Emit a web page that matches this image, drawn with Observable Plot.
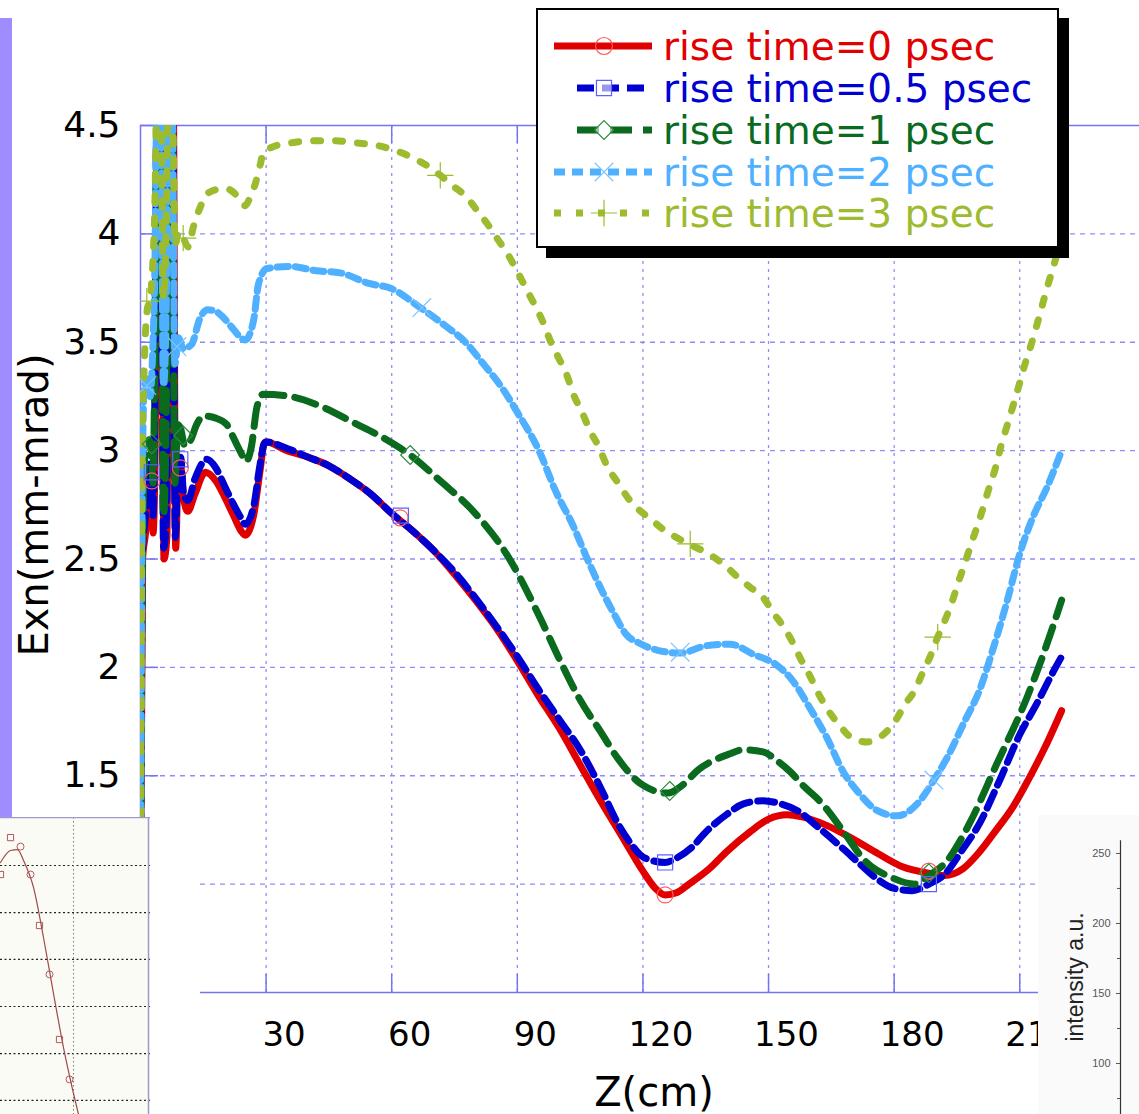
<!DOCTYPE html>
<html>
<head>
<meta charset="utf-8">
<script src="https://cdn.jsdelivr.net/npm/d3@7"></script>
<script src="https://cdn.jsdelivr.net/npm/@observablehq/plot@0.6"></script>
<style>
  body { margin: 0; background: #fff; }
  #wrap { position: relative; width: 1139px; height: 1114px; overflow: hidden; background: #fff; font-family: "DejaVu Sans", Verdana, sans-serif; }
  #wrap > * { position: absolute; }
  #bar { left: 0; top: 18px; width: 12px; height: 799px; background: #9f8cff; }
  #insetL { left: 0; top: 817px; width: 200px; height: 297px; background: #fff; }
  #insetR { left: 1038px; top: 815px; width: 101px; height: 299px; background: #fafafa; }
  #legendBox { left: 536px; top: 8px; width: 523px; height: 240px; box-sizing: border-box; border: 2px solid #000; background: #fff; box-shadow: 10px 10px 0 #000; }
</style>
</head>
<body>
<div id="wrap">
  <div id="bar"></div>
</div>
<script>
// ---------- axis ticks ----------
const zTicks = [30, 60, 90, 120, 150, 180, 210];
const yTicks = [0.5, 1, 1.5, 2, 2.5, 3, 3.5, 4, 4.5];
const yGrid = [1, 1.5, 2, 2.5, 3, 3.5, 4];

// ---------- series (Z in cm, Exn in mm-mrad) ----------
const seriesNames = ["rise time=0 psec", "rise time=0.5 psec", "rise time=1 psec", "rise time=2 psec", "rise time=3 psec"];

const z0 = [0, 0.5, 1.2, 2.0, 2.6, 3.0, 3.5, 4.2, 5.0, 5.6, 6.3, 7.0, 7.8, 8.4, 9.0, 9.6, 10.3, 11.3, 13, 15.5, 18, 20, 22, 24, 25, 27, 28.5, 29.5, 30, 35, 40, 45, 50, 55, 60, 65, 70, 75, 80, 85, 90, 95, 100, 105, 110, 115, 120, 123, 125.3, 128, 131, 135.8, 140, 145.5, 150, 154.4, 158, 164, 170, 176.2, 182, 188.3, 192, 196.4, 200, 204, 208.5, 212, 216, 220];
const e0 = [0.9, 2.5, 2.62, 2.86, 2.88, 2.62, 3.0, 4.7, 4.7, 2.5, 2.6, 4.7, 4.7, 2.55, 2.9, 2.93, 2.78, 2.72, 2.8, 2.9, 2.86, 2.79, 2.71, 2.63, 2.61, 2.7, 2.9, 3.03, 3.04, 3.00, 2.97, 2.93, 2.87, 2.80, 2.71, 2.63, 2.54, 2.43, 2.31, 2.18, 2.03, 1.87, 1.72, 1.55, 1.38, 1.22, 1.06, 0.98, 0.95, 0.96, 1.00, 1.07, 1.15, 1.24, 1.30, 1.32, 1.31, 1.27, 1.21, 1.14, 1.08, 1.05, 1.04, 1.07, 1.14, 1.24, 1.36, 1.48, 1.63, 1.80];

const z05 = [0, 0.5, 1.2, 2.0, 2.6, 3.0, 3.4, 4.0, 4.8, 5.5, 6.2, 6.8, 7.6, 8.3, 9.0, 9.6, 10.3, 11.3, 13, 15.8, 18, 20, 22, 24, 25, 27, 28.5, 29.5, 30, 35, 40, 45, 50, 55, 60, 65, 70, 75, 80, 85, 90, 95, 100, 105, 110, 114, 117, 119.7, 122, 125.3, 128, 131.7, 135, 139.9, 144, 148.7, 152, 156.8, 162, 168, 172, 176.2, 180, 184.3, 188.3, 192.3, 196, 200.4, 205, 210, 214, 218, 220];
const e05 = [0.9, 2.55, 2.7, 2.92, 2.95, 2.7, 3.2, 4.7, 4.7, 2.55, 2.7, 4.7, 4.7, 2.6, 2.95, 2.97, 2.8, 2.77, 2.87, 2.96, 2.92, 2.84, 2.76, 2.69, 2.66, 2.74, 2.93, 3.03, 3.04, 3.01, 2.97, 2.93, 2.87, 2.80, 2.71, 2.63, 2.54, 2.44, 2.32, 2.19, 2.05, 1.90, 1.76, 1.62, 1.44, 1.28, 1.19, 1.13, 1.11, 1.10, 1.12, 1.17, 1.24, 1.32, 1.37, 1.385, 1.375, 1.34, 1.26, 1.16, 1.09, 1.02, 0.98, 0.97, 1.00, 1.05, 1.15, 1.28, 1.47, 1.69, 1.83, 1.98, 2.05];

const z1 = [0, 0.5, 1.2, 2.0, 2.6, 3.0, 3.4, 4.0, 4.8, 5.5, 6.1, 6.7, 7.5, 8.2, 8.9, 9.6, 10.6, 12, 13.4, 15, 18, 20.6, 22.2, 24, 25.2, 26.5, 27.8, 29.3, 35.7, 43.6, 50.8, 58.8, 64.4, 71.6, 79.5, 87.5, 95.4, 100, 105, 110, 114, 119.7, 126, 129, 133.4, 140.6, 144, 148.7, 152, 155.1, 158.5, 162.4, 168, 172.9, 179.4, 185, 188.3, 192.3, 198, 204.4, 211.7, 216, 220];
const e1 = [0.9, 2.6, 3.0, 3.05, 3.0, 2.85, 3.4, 4.7, 4.7, 2.7, 3.1, 4.7, 4.7, 2.85, 3.12, 3.1, 3.02, 3.05, 3.12, 3.16, 3.15, 3.12, 3.06, 2.99, 2.95, 3.02, 3.2, 3.26, 3.25, 3.20, 3.13, 3.05, 2.98, 2.86, 2.72, 2.52, 2.23, 2.04, 1.85, 1.70, 1.58, 1.46, 1.42, 1.45, 1.53, 1.60, 1.62, 1.61, 1.57, 1.52, 1.45, 1.38, 1.24, 1.11, 1.03, 1.00, 1.04, 1.10, 1.28, 1.55, 1.86, 2.08, 2.31];

const z2 = [0, 0.4, 0.9, 1.6, 2.3, 2.9, 3.4, 4.0, 4.8, 5.5, 6.1, 6.7, 7.5, 8.2, 9.1, 10.2, 12.2, 14.2, 16, 18.2, 20, 22.2, 24, 25, 27, 28.2, 30.2, 35.7, 42, 47.7, 54.8, 59.6, 66.8, 73.2, 77.1, 81.9, 86.7, 89.9, 95.4, 99, 103.4, 106.5, 109.8, 113, 116.1, 119.3, 123.3, 128.9, 135.2, 140.8, 146.4, 152, 155.7, 159.8, 163.8, 167.8, 171.8, 175.9, 180.7, 185.5, 189.5, 192.7, 196.8, 200.3, 203.7, 206.9, 210.1, 213.3, 216.5, 220];
const e2 = [0.9, 2.8, 3.3, 3.33, 3.25, 3.45, 3.8, 4.7, 4.7, 3.3, 3.6, 4.7, 4.7, 3.4, 3.52, 3.47, 3.49, 3.61, 3.65, 3.64, 3.61, 3.56, 3.52, 3.51, 3.6, 3.77, 3.84, 3.85, 3.83, 3.82, 3.77, 3.75, 3.66, 3.57, 3.51, 3.40, 3.28, 3.18, 2.99, 2.82, 2.65, 2.51, 2.37, 2.25, 2.15, 2.11, 2.08, 2.066, 2.10, 2.107, 2.06, 2.01, 1.94, 1.815, 1.68, 1.52, 1.415, 1.34, 1.315, 1.37, 1.48, 1.585, 1.75, 1.89, 2.09, 2.30, 2.53, 2.70, 2.83, 3.0];

const z3 = [0, 0.4, 0.9, 1.6, 2.3, 2.9, 3.4, 4.0, 4.8, 5.5, 6.1, 6.7, 7.5, 8.3, 9.1, 10.2, 11.4, 12.6, 14.2, 16.2, 20.2, 23.8, 25, 26.2, 27.4, 28.6, 29.4, 31.4, 36.1, 41.3, 46.5, 51.3, 56, 60, 64, 68, 71.6, 74.7, 77.9, 80.3, 82.7, 85.5, 87.9, 89.9, 92.3, 94.2, 96.2, 97.8, 99.8, 101.8, 103.4, 105.4, 107.4, 109.4, 111.4, 114.1, 116.5, 118.9, 122.1, 125.3, 128.9, 131.3, 136, 139.6, 142.4, 145.6, 148.8, 151.2, 153.5, 155.9, 157.9, 159.9, 161.9, 164.3, 167.1, 169.5, 173.5, 177.4, 180.2, 182.6, 184.8, 186.8, 188.6, 190.4, 192.2, 193.8, 195.2, 196.8, 198.4, 200, 201.3, 202.7, 204.2, 205.5, 206.9, 208.3, 209.8, 211.1, 212.5, 213.8, 215.1, 216.5, 217.9, 220];
const e3 = [0.9, 3.0, 3.4, 3.65, 3.7, 3.85, 4.1, 4.7, 4.7, 3.7, 4.0, 4.7, 4.7, 3.95, 4.01, 3.98, 3.94, 4.03, 4.12, 4.19, 4.21, 4.16, 4.13, 4.17, 4.23, 4.32, 4.38, 4.40, 4.42, 4.43, 4.43, 4.42, 4.41, 4.39, 4.36, 4.32, 4.27, 4.22, 4.17, 4.11, 4.05, 3.97, 3.90, 3.83, 3.74, 3.67, 3.59, 3.51, 3.43, 3.35, 3.26, 3.18, 3.09, 3.02, 2.93, 2.85, 2.78, 2.73, 2.68, 2.63, 2.59, 2.566, 2.52, 2.47, 2.42, 2.37, 2.32, 2.25, 2.19, 2.11, 2.03, 1.96, 1.88, 1.80, 1.73, 1.68, 1.656, 1.69, 1.75, 1.83, 1.89, 1.975, 2.05, 2.14, 2.22, 2.30, 2.385, 2.475, 2.57, 2.66, 2.74, 2.83, 2.92, 3.02, 3.11, 3.20, 3.30, 3.39, 3.475, 3.56, 3.65, 3.75, 3.84, 3.98];

// sparse symbol positions (Z, Exn)
const mz0 = [2.7, 9.5, 62, 125.3, 188.3],   me0 = [2.86, 2.92, 2.69, 0.95, 1.06];
const mz05 = [2.7, 9.5, 62.2, 125.3, 188.3], me05 = [2.9, 2.96, 2.70, 1.10, 1.00];
const mz1 = [2.7, 10.2, 64.4, 126.4, 188.3], me1 = [3.03, 3.07, 2.98, 1.43, 1.05];
const mz2 = [1.5, 8.7, 67.2, 128.9, 189.5],  me2 = [3.30, 3.48, 3.66, 2.07, 1.48];
const mz3 = [1.5, 10.2, 71.6, 131.3, 190.4], me3 = [3.69, 3.98, 4.27, 2.57, 2.14];

// ---------- styles ----------
const colors = ["#e00000", "#0000d0", "#0a6b1f", "#4eb0ff", "#9dbb2e"];
const markColors = ["#ff5a5a", "#6060ff", "#2e8b3e", "#7cc4ff", "#9dbb2e"];
const dashes = [null, "17,8", "22,11", "11,7", "7,15"];
const symbols = ["circle", "square", "diamond2", "times", "plus"];
const d3symbols = [d3.symbolCircle, d3.symbolSquare, d3.symbolDiamond2, d3.symbolTimes, d3.symbolPlus];

const seriesZ = [z0, z05, z1, z2, z3];
const seriesE = [e0, e05, e1, e2, e3];
const markZ = [mz0, mz05, mz1, mz2, mz3];
const markE = [me0, me05, me1, me2, me3];

const rows = (zs, es) => zs.map((z, i) => ({z, e: es[i]}));

const frameColor = "#7474f4";
const gridColor = "#8e8ef6";
const tickLenY = 18 * 4.0 / 870;   // inward tick length in Exn units
const tickLenX = 18 / 4.187;       // inward tick length in cm

const marks = [
  Plot.ruleY(yGrid, {stroke: gridColor, strokeWidth: 1.3, strokeDasharray: "5,5"}),
  Plot.ruleX(zTicks, {stroke: gridColor, strokeWidth: 1.3, strokeDasharray: "3,5"}),
  Plot.ruleY([4.5], {stroke: frameColor, strokeWidth: 1.5}),
  Plot.ruleY([0.5], {stroke: frameColor, strokeWidth: 1.5}),
  Plot.ruleX([0], {stroke: frameColor, strokeWidth: 1.5}),
  Plot.ruleX(zTicks, {y1: 0.5, y2: 0.5 + tickLenY, stroke: frameColor, strokeWidth: 1.5}),
  Plot.ruleX(zTicks, {y1: 4.5 - tickLenY, y2: 4.5, stroke: frameColor, strokeWidth: 1.5}),
  Plot.ruleY(yTicks, {x1: 0, x2: tickLenX, stroke: frameColor, strokeWidth: 1.5}),
  Plot.axisY({ticks: yTicks, tickSize: 0, tickPadding: 20, fontSize: 36, label: null, tickFormat: d => String(d)}),
  Plot.axisX({ticks: zTicks, tickSize: 0, tickPadding: 29, fontSize: 34, dx: 18, label: null, tickFormat: d => String(d)}),
  Plot.text(["Exn(mm-mrad)"], {frameAnchor: "left", textAnchor: "middle", rotate: -90, dx: -105, dy: -54, fontSize: 40, fill: "#000", lineAnchor: "middle"}),
  Plot.text(["Z(cm)"], {frameAnchor: "bottom", textAnchor: "middle", dx: 14, dy: 101, fontSize: 40, fill: "#000", lineAnchor: "middle"})
];

seriesZ.forEach((zs, k) => {
  marks.push(Plot.line(rows(zs, seriesE[k]), {
    x: "z", y: "e", stroke: colors[k], strokeWidth: 7,
    strokeDasharray: dashes[k] || undefined, curve: "monotone-x", clip: true
  }));
});
markZ.forEach((zs, k) => {
  marks.push(Plot.dot(rows(zs, markE[k]), {
    x: "z", y: "e", symbol: () => symbols[k], r: k === 0 ? 8 : 8.5,
    stroke: markColors[k], strokeWidth: 1.2, fill: "none", clip: true
  }));
});

const main = Plot.plot({
  width: 1139, height: 1114,
  marginLeft: 140, marginRight: 0, marginTop: 125, marginBottom: 122,
  x: {domain: [0, 238.6]},
  y: {domain: [0.5, 4.5]},
  symbol: {type: "identity"},
  style: {fontFamily: "'DejaVu Sans', Verdana, sans-serif", background: "transparent", color: "#000"},
  marks
});
main.style.left = "0px";
main.style.top = "0px";
const wrap = document.getElementById("wrap");
wrap.appendChild(main);

// ---------- left inset (overlapping picture) ----------
const insetX = [0, 1.0, 1.7, 2.3, 3.3, 4.3, 5.3, 6.3, 7.3, 7.8];
const insetY = [8.4, 8.8, 8.83, 8.47, 7.57, 5.9, 4.03, 2.23, 0.7, 0];
const insetSqX = [0, 1.0, 3.9, 5.9];
const insetSqY = [8.0, 9.23, 6.3, 2.5];
const insetCiX = [2.0, 3.0, 4.9, 6.9];
const insetCiY = [8.93, 8.0, 4.67, 1.17];
const insetGrid = [8.3, 6.73, 5.17, 3.6, 2.03, 0.47];

const insetLDiv = document.createElement("div");
insetLDiv.id = "insetL";
wrap.appendChild(insetLDiv);
const insetL = Plot.plot({
  width: 150, height: 297, margin: 0,
  x: {domain: [0, 15.0], axis: null},
  y: {domain: [0, 9.9], axis: null},
  style: {background: "#fbfbf6"},
  marks: [
    Plot.ruleY(insetGrid, {stroke: "#222", strokeDasharray: "2,2.5", strokeWidth: 1.2}),
    Plot.ruleX([7.3], {stroke: "#777", strokeDasharray: "1.5,2.5", strokeWidth: 1}),
    Plot.ruleX([14.8], {stroke: "#9a9acc", strokeWidth: 1.5}),
    Plot.ruleY([9.9], {stroke: "#9a9acc", strokeWidth: 1.5}),
    Plot.line(rows(insetX, insetY), {x: "z", y: "e", stroke: "#a04848", strokeWidth: 1.2, curve: "monotone-x"}),
    Plot.dot(rows(insetSqX, insetSqY), {x: "z", y: "e", symbol: "square", r: 3.5, stroke: "#b05a5a", strokeWidth: 1}),
    Plot.dot(rows(insetCiX, insetCiY), {x: "z", y: "e", r: 3.5, stroke: "#b05a5a", strokeWidth: 1})
  ]
});
insetLDiv.appendChild(insetL);

// ---------- right inset (overlapping picture) ----------
const rightTicks = [100, 150, 200, 250];
const rightMinor = [75, 125, 175, 225];
const insetRDiv = document.createElement("div");
insetRDiv.id = "insetR";
wrap.appendChild(insetRDiv);
const insetR = Plot.plot({
  width: 101, height: 299, margin: 0, marginLeft: 82,
  x: {domain: [0, 1], axis: null},
  y: {domain: [63.6, 277.1], axis: null},
  style: {background: "transparent", fontFamily: "'Liberation Sans', Arial, sans-serif"},
  marks: [
    Plot.ruleX([0], {y1: 63.6, y2: 259, stroke: "#333", strokeWidth: 1.2}),
    Plot.axisY({ticks: rightTicks, anchor: "left", tickSize: 4, tickPadding: 6, fontSize: 11, color: "#555", label: null}),
    Plot.axisY({ticks: rightMinor, anchor: "left", tickSize: 3, tickFormat: () => "", label: null, color: "#555"}),
    Plot.text(["intensity a.u."], {frameAnchor: "left", textAnchor: "middle", rotate: -90, dx: -45, dy: 12, fontSize: 23, fill: "#222", lineAnchor: "middle"})
  ]
});
insetRDiv.appendChild(insetR);

// ---------- legend ----------
const legendBox = document.createElement("div");
legendBox.id = "legendBox";
wrap.appendChild(legendBox);

const legendRowY = [46, 88, 130, 172, 213];
const lg = d3.select(wrap).append("svg")
  .attr("width", 1139).attr("height", 270)
  .style("left", "0px").style("top", "0px");
seriesNames.forEach((name, k) => {
  const y = legendRowY[k];
  const x0 = (k === 1 || k === 2) ? 577 : 554;
  lg.append("line")
    .attr("x1", x0).attr("x2", 652).attr("y1", y).attr("y2", y)
    .attr("stroke", colors[k]).attr("stroke-width", 7)
    .attr("stroke-dasharray", dashes[k]);
  lg.append("path")
    .attr("d", d3.symbol(d3symbols[k], Math.PI * 8.5 * 8.5)())
    .attr("transform", `translate(604,${y})`)
    .attr("fill", k === 0 ? "none" : "#fff")
    .attr("fill-opacity", k === 0 ? 0 : 0.6)
    .attr("stroke", markColors[k]).attr("stroke-width", 1.2);
  lg.append("text")
    .attr("x", 663).attr("y", y)
    .attr("dominant-baseline", "central")
    .attr("font-family", "'DejaVu Sans', Verdana, sans-serif")
    .attr("font-size", 39)
    .attr("fill", colors[k])
    .text(name);
});
</script>
</body>
</html>
